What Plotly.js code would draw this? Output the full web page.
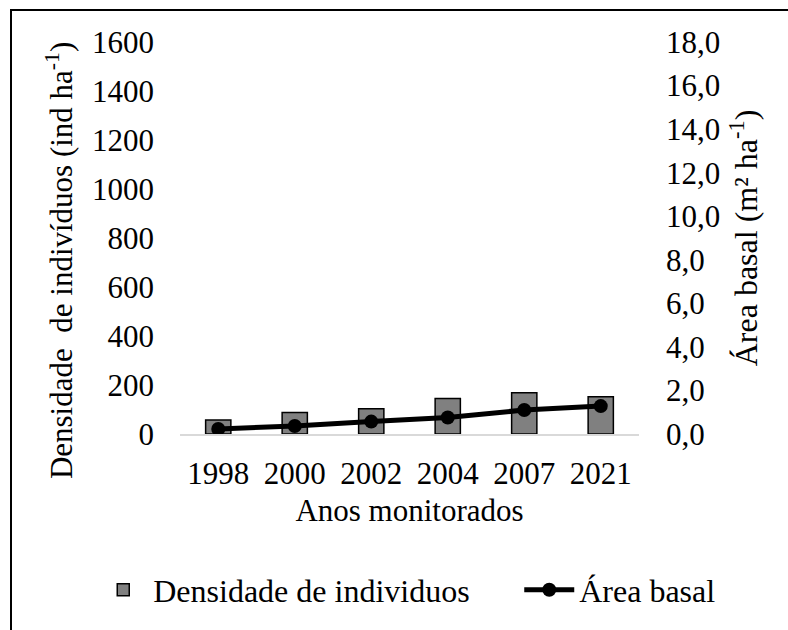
<!DOCTYPE html>
<html>
<head>
<meta charset="utf-8">
<script src="https://cdn.plot.ly/plotly-3.0.1.min.js"></script>
<style>
  html, body { margin: 0; padding: 0; background: #fff; }
  #wrap { position: relative; width: 788px; height: 630px; overflow: hidden; }
  #chart { position: absolute; left: 0; top: 0; width: 788px; height: 630px; }
  #frame { position: absolute; left: 10px; top: 9px; width: 800px; height: 640px;
           border-left: 2px solid #000; border-top: 2px solid #000; pointer-events: none; }
</style>
</head>
<body>
<div id="wrap">
  <div id="chart"></div>
  <div id="frame"></div>
</div>
<script>
const years = ["1998", "2000", "2002", "2004", "2007", "2021"];
const densidade = [57, 88, 103, 145, 168, 152];
const areaBasal = [0.23, 0.37, 0.57, 0.76, 1.10, 1.28];

const FONT = "Liberation Serif";
const FS = 31;

const traces = [
  {
    type: "bar",
    name: "Densidade de individuos",
    x: years,
    y: densidade,
    width: 0.33,
    marker: { color: "#808080", line: { color: "#000", width: 1.5 } },
    yaxis: "y",
    legendwidth: 361
  },
  {
    type: "scatter",
    mode: "lines+markers",
    name: "Área basal",
    x: years,
    y: areaBasal,
    line: { color: "#000", width: 5 },
    marker: { color: "#000", size: 14 },
    yaxis: "y2",
    legendwidth: 140
  }
];

const layout = {
  width: 788,
  height: 630,
  margin: { l: 180, r: 149, t: 42, b: 194 },
  paper_bgcolor: "#fff",
  plot_bgcolor: "#fff",
  separators: ",.",
  font: { family: FONT, size: FS, color: "#000" },
  showlegend: true,
  xaxis: {
    type: "category",
    showgrid: false,
    zeroline: false,
    showline: true,
    linecolor: "#d9d9d9",
    linewidth: 2,
    ticks: "",
    ticklabelstandoff: 11,
    tickfont: { family: FONT, size: FS, color: "#000" },
    title: { text: "Anos monitorados", font: { family: FONT, size: FS, color: "#000" }, standoff: 9 }
  },
  yaxis: {
    range: [0, 1600],
    dtick: 200,
    tickformat: "d",
    showgrid: false,
    zeroline: false,
    showline: false,
    ticks: "",
    ticklabelstandoff: 25,
    tickfont: { family: FONT, size: FS, color: "#000" }
  },
  yaxis2: {
    overlaying: "y",
    side: "right",
    range: [0, 18],
    dtick: 2,
    tickformat: ".1f",
    showgrid: false,
    zeroline: false,
    showline: false,
    ticks: "",
    ticklabelstandoff: 26,
    tickfont: { family: FONT, size: FS, color: "#000" },
    title: { text: "Área basal (m² ha<sup>-1</sup>)", font: { family: FONT, size: 32, color: "#000" }, standoff: 15 }
  },
  annotations: [
    {
      text: "Densidade  de indivíduos (ind ha<sup>-1</sup>)",
      xref: "paper", yref: "paper",
      x: -0.262, y: 0.443,
      xanchor: "center", yanchor: "middle",
      textangle: -90,
      showarrow: false,
      font: { family: FONT, size: FS, color: "#000" }
    }
  ],
  legend: {
    orientation: "h",
    x: -0.189,
    xanchor: "left",
    y: -0.398,
    yanchor: "middle",
    font: { family: FONT, size: 32, color: "#000" },
    itemwidth: 50,
    bgcolor: "rgba(0,0,0,0)"
  }
};

Plotly.newPlot("chart", traces, layout, { displayModeBar: false, staticPlot: true });
</script>
</body>
</html>
